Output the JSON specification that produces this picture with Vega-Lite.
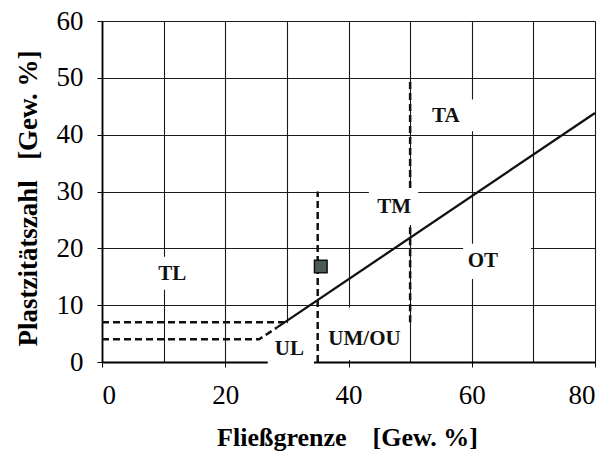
{
  "$schema": "https://vega.github.io/schema/vega-lite/v6.json",
  "width": 493,
  "height": 341,
  "autosize": "none",
  "padding": {"left": 102, "top": 21, "right": 17, "bottom": 95},
  "background": "white",
  "config": {"view": {"stroke": null}, "font": "Liberation Serif"},
  "datasets": {
    "boxes": [
      {"x": 51.5, "x2": 61, "y": 40.6, "y2": 46.2},
      {"x": 43.3, "x2": 51.3, "y": 24.1, "y2": 30.6},
      {"x": 6.5, "x2": 16.5, "y": 12.7, "y2": 18.5},
      {"x": 58.6, "x2": 69.6, "y": 14.6, "y2": 20.8},
      {"x": 26.9, "x2": 34.4, "y": -0.4, "y2": 6.8},
      {"x": 36.2, "x2": 48.5, "y": 0.35, "y2": 9.6}
    ],
    "lines": [
      {"series": "h7", "order": 1, "x": 0, "y": 7},
      {"series": "h7", "order": 2, "x": 29.6, "y": 7},
      {"series": "h4", "order": 1, "x": 0, "y": 4},
      {"series": "h4", "order": 2, "x": 25.5, "y": 4},
      {"series": "h4", "order": 3, "x": 28.3, "y": 6.0},
      {"series": "v35", "order": 1, "x": 35, "y": 0},
      {"series": "v35", "order": 2, "x": 35, "y": 30},
      {"series": "v50a", "order": 1, "x": 50, "y": 7},
      {"series": "v50a", "order": 2, "x": 50, "y": 24},
      {"series": "v50b", "order": 1, "x": 50, "y": 30.6},
      {"series": "v50b", "order": 2, "x": 50, "y": 49.5}
    ],
    "aline": [
      {"order": 1, "x": 28.3, "y": 6.0},
      {"order": 2, "x": 80, "y": 43.8}
    ],
    "sample": [{"x": 35.5, "y": 16.8}],
    "labels": [
      {"label": "TA", "x": 55.8, "y": 43.2},
      {"label": "TM", "x": 47.4, "y": 27.3},
      {"label": "TL", "x": 11.4, "y": 15.5},
      {"label": "OT", "x": 61.8, "y": 17.8},
      {"label": "UL", "x": 30.4, "y": 2.2},
      {"label": "UM/OU", "x": 42.6, "y": 4.0}
    ]
  },
  "encoding": {
    "x": {
      "field": "x", "type": "quantitative",
      "scale": {"domain": [0, 80], "nice": false, "zero": false},
      "axis": {
        "values": [0, 10, 20, 30, 40, 50, 60, 70, 80],
        "labelExpr": "datum.value % 20 == 0 ? datum.label : ''",
        "grid": true, "gridColor": "#1a1a1a", "gridWidth": 1.1,
        "domainColor": "#000", "domainWidth": 1.8,
        "ticks": true, "tickSize": 5, "tickColor": "#000",
        "tickOpacity": {"condition": {"test": "datum.value % 20 == 0", "value": 1}, "value": 0},
        "labelFont": "Liberation Serif", "labelFontSize": 27, "labelColor": "#000",
        "labelBaseline": "alphabetic", "labelPadding": 36, "labelOverlap": false,
        "title": "Fließgrenze\u00a0\u00a0\u00a0\u00a0[Gew. %]",
        "titleFont": "Liberation Serif", "titleFontSize": 26, "titleFontWeight": "bold", "titleColor": "#000",
        "titleBaseline": "middle", "titleY": 75, "titleX": 245
      }
    },
    "y": {
      "field": "y", "type": "quantitative",
      "scale": {"domain": [0, 60], "nice": false, "zero": false},
      "axis": {
        "values": [0, 10, 20, 30, 40, 50, 60],
        "grid": true, "gridColor": "#1a1a1a", "gridWidth": 1.1,
        "domainColor": "#000", "domainWidth": 1.8,
        "ticks": true, "tickSize": 5, "tickColor": "#000",
        "labelFont": "Liberation Serif", "labelFontSize": 27, "labelColor": "#000",
        "labelPadding": 14, "labelOverlap": false,
        "title": "Plastzitätszahl\u00a0\u00a0\u00a0[Gew. %]",
        "titleFont": "Liberation Serif", "titleFontSize": 27, "titleFontWeight": "bold", "titleColor": "#000",
        "titleBaseline": "middle", "titleAlign": "center", "titleAngle": -90,
        "titleX": -74, "titleY": 177
      }
    }
  },
  "layer": [
    {
      "data": {"name": "boxes"},
      "mark": {"type": "rect", "fill": "white", "stroke": null},
      "encoding": {
        "x2": {"field": "x2"},
        "y2": {"field": "y2"}
      }
    },
    {
      "data": {"name": "lines"},
      "mark": {"type": "line", "color": "#111", "strokeWidth": 2.5, "strokeDash": [7, 4]},
      "encoding": {
        "detail": {"field": "series"},
        "order": {"field": "order"}
      }
    },
    {
      "data": {"name": "aline"},
      "mark": {"type": "line", "color": "#111", "strokeWidth": 2.3},
      "encoding": {"order": {"field": "order"}}
    },
    {
      "data": {"name": "sample"},
      "mark": {"type": "point", "shape": "square", "size": 160, "filled": true, "fill": "#4b5b52", "stroke": "#111", "strokeWidth": 1.5, "opacity": 1}
    },
    {
      "data": {"name": "labels"},
      "mark": {"type": "text", "font": "Liberation Serif", "fontWeight": "bold", "fontSize": 21, "color": "#111", "align": "center", "baseline": "middle"},
      "encoding": {"text": {"field": "label"}}
    }
  ]
}
